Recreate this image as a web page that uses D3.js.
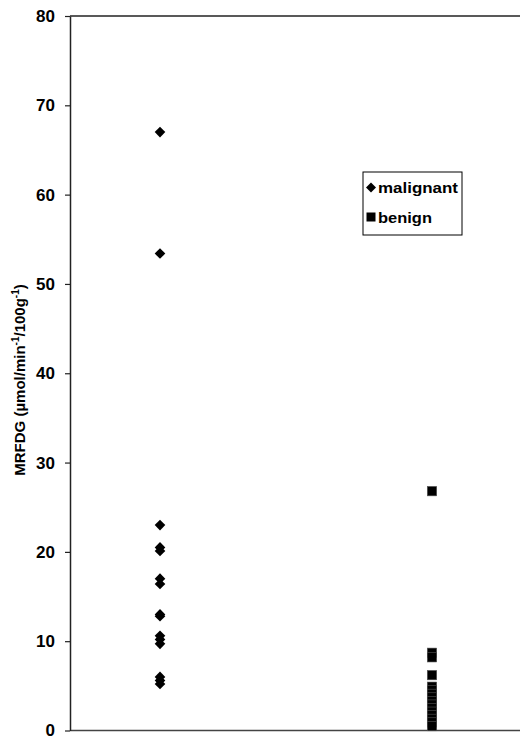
<!DOCTYPE html>
<html>
<head>
<meta charset="utf-8">
<script src="https://cdn.jsdelivr.net/npm/d3@7"></script>
<style>
  body { margin: 0; background: #fff; }
  text { font-family: "Liberation Sans", Arial, sans-serif; font-weight: bold; fill: #000; }
</style>
</head>
<body>
<script>
const groups = ["malignant", "benign"];
const malignant = [67.0, 53.4, 23.0, 20.5, 20.1, 17.0, 16.4, 13.0, 12.8, 10.6, 10.2, 9.7, 6.0, 5.6, 5.2];
const benign = [26.8, 8.7, 8.2, 6.2, 4.9, 4.5, 4.1, 3.7, 3.3, 2.9, 2.5, 2.1, 1.7, 1.3, 0.9, 0.5];
const yTicks = [0, 10, 20, 30, 40, 50, 60, 70, 80];

const width = 520;
const height = 736;

const svg = d3.select("body")
    .append("svg")
    .attr("width", width)
    .attr("height", height);

// scales
const x = d3.scalePoint()
    .domain(groups)
    .range([160, 432]);

const y = d3.scaleLinear()
    .domain([0, 80])
    .range([730.5, 16]);

// frame lines top and bottom
svg.append("line")
    .attr("x1", 70).attr("x2", width)
    .attr("y1", y(80)).attr("y2", y(80))
    .attr("stroke", "#222").attr("stroke-width", 1.5);

svg.append("line")
    .attr("x1", 70).attr("x2", width)
    .attr("y1", y(0)).attr("y2", y(0))
    .attr("stroke", "#444").attr("stroke-width", 1.5);

// y axis
const yAxis = svg.append("g")
    .attr("transform", "translate(70,0)")
    .call(d3.axisLeft(y).tickValues(yTicks).tickSize(5).tickPadding(10).tickSizeOuter(0));

yAxis.select(".domain").attr("stroke", "#222").attr("stroke-width", 1.5);
yAxis.selectAll(".tick line").attr("stroke", "#222").attr("stroke-width", 1.2);
yAxis.selectAll(".tick text")
    .attr("font-size", 17)
    .attr("font-family", "Liberation Sans, Arial, sans-serif")
    .attr("font-weight", "bold")
    .attr("fill", "#000");

// y label
const ylab = svg.append("text")
    .attr("transform", "translate(25,380) rotate(-90)")
    .attr("text-anchor", "middle")
    .attr("font-size", 15);
ylab.append("tspan").text("MRFDG (\u00b5mol/min");
ylab.append("tspan").attr("dy", -6).attr("font-size", 10).text("-1");
ylab.append("tspan").attr("dy", 6).text("/100g");
ylab.append("tspan").attr("dy", -6).attr("font-size", 10).text("-1");
ylab.append("tspan").attr("dy", 6).text(")");

const diamond = (cx, cy, r) => `M${cx},${cy - r}L${cx + r},${cy}L${cx},${cy + r}L${cx - r},${cy}Z`;

// malignant points
svg.selectAll(".mal")
    .data(malignant)
    .enter()
    .append("path")
    .attr("class", "mal")
    .attr("d", d => diamond(x("malignant"), y(d), 5.3))
    .attr("fill", "#000");

// benign points
svg.selectAll(".ben")
    .data(benign)
    .enter()
    .append("rect")
    .attr("class", "ben")
    .attr("x", x("benign") - 4.7)
    .attr("y", d => y(d) - 4.7)
    .attr("width", 9.4)
    .attr("height", 9.4)
    .attr("fill", "#000")
    .attr("stroke", "#555")
    .attr("stroke-width", 0.6);

// legend
const legend = svg.append("g");
legend.append("rect")
    .attr("x", 363).attr("y", 172)
    .attr("width", 99).attr("height", 63)
    .attr("fill", "#fff")
    .attr("stroke", "#000").attr("stroke-width", 1);

legend.append("path")
    .attr("d", diamond(371, 187.5, 5))
    .attr("fill", "#000");
legend.append("text")
    .attr("x", 378).attr("y", 192.5)
    .attr("font-size", 14.5)
    .attr("textLength", 80)
    .attr("lengthAdjust", "spacingAndGlyphs")
    .text("malignant");

legend.append("rect")
    .attr("x", 366.5).attr("y", 212.5)
    .attr("width", 9).attr("height", 9)
    .attr("fill", "#000");
legend.append("text")
    .attr("x", 378).attr("y", 222.5)
    .attr("font-size", 14.5)
    .attr("textLength", 54)
    .attr("lengthAdjust", "spacingAndGlyphs")
    .text("benign");
</script>
</body>
</html>
